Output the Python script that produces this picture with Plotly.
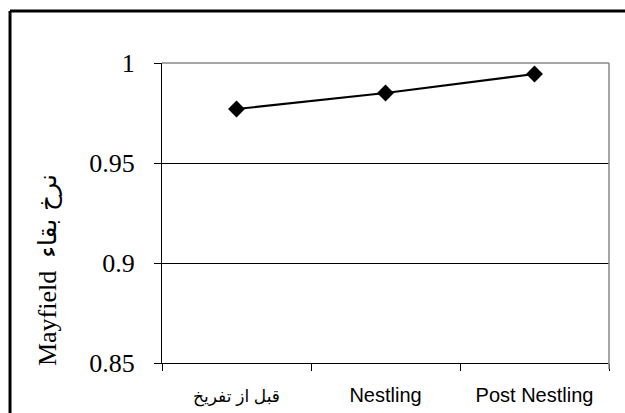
import plotly.graph_objects as go

categories = ["قبل از تفریخ", "Nestling", "Post Nestling"]
category_labels = ["<span style='font-size:17px'>قبل از تفریخ</span>", "Nestling", "Post Nestling"]
survival = [0.977, 0.985, 0.9945]
y_ticks = [0.85, 0.9, 0.95, 1.0]
y_tick_labels = ["0.85", "0.9", "0.95", "1"]
y_title_latin = "Mayfield"
y_title_arabic = "نرخ بقاء"

fig = go.Figure()
fig.add_trace(go.Scatter(
    x=categories, y=survival, mode="lines+markers",
    line=dict(color="black", width=2),
    marker=dict(symbol="diamond", size=13, color="black"),
    showlegend=False, cliponaxis=False,
))

title_text = (y_title_latin + "\u00a0\u00a0"
              + "<span style='font-family:DejaVu Sans; font-size:25px'>" + y_title_arabic + "</span>")

fig.update_layout(
    template="none",
    width=625, height=413,
    margin=dict(l=162, r=16, t=63, b=50, autoexpand=False),
    paper_bgcolor="white", plot_bgcolor="white",
    xaxis=dict(
        type="category", range=[-0.5, 2.5], automargin=False,
        tickvals=categories, ticktext=category_labels,
        showline=True, linecolor="black", linewidth=1,
        ticks="outside", tickson="boundaries", ticklen=7, tickcolor="black",
        showgrid=False, zeroline=False,
        ticklabelstandoff=14,
        tickfont=dict(family="Liberation Sans, Arial, DejaVu Sans", size=20, color="black"),
        fixedrange=True,
    ),
    yaxis=dict(
        range=[0.85, 1.0], automargin=False,
        tickvals=y_ticks, ticktext=y_tick_labels,
        showline=True, linecolor="black", linewidth=1,
        ticks="outside", ticklen=7, tickcolor="black",
        showgrid=True, gridcolor="black", gridwidth=1, zeroline=False,
        ticklabelstandoff=14,
        tickfont=dict(family="Liberation Serif, Times New Roman, serif", size=26, color="black"),
        fixedrange=True,
    ),
    annotations=[
        dict(text=title_text, xref="paper", yref="paper", x=-0.257, y=0.31,
             xanchor="center", yanchor="middle", textangle=-90, showarrow=False,
             font=dict(family="Liberation Serif, Times New Roman, serif", size=26, color="black")),
    ],
    shapes=[
        # outer chart border (top and left edges; right/bottom lie outside the picture)
        dict(type="line", xref="paper", yref="paper", x0=-0.340, x1=1.0358, y0=1.1733, y1=1.1733,
             line=dict(color="black", width=3), layer="above"),
        dict(type="line", xref="paper", yref="paper", x0=-0.340, x1=-0.340, y0=-0.1667, y1=1.1733,
             line=dict(color="black", width=3), layer="above"),
        dict(type="line", xref="paper", yref="paper", x0=0, x1=1, y0=1, y1=1,
             line=dict(color="#888888", width=1.5), layer="above"),
        dict(type="line", xref="paper", yref="paper", x0=1, x1=1, y0=-0.02, y1=1,
             line=dict(color="#888888", width=1.5), layer="above"),
    ],
)

fig.write_html(
    "out.html",
    config={"displayModeBar": False},
    post_script="document.body.style.margin='0';document.documentElement.style.overflow='hidden';document.body.style.overflow='hidden';",
)
